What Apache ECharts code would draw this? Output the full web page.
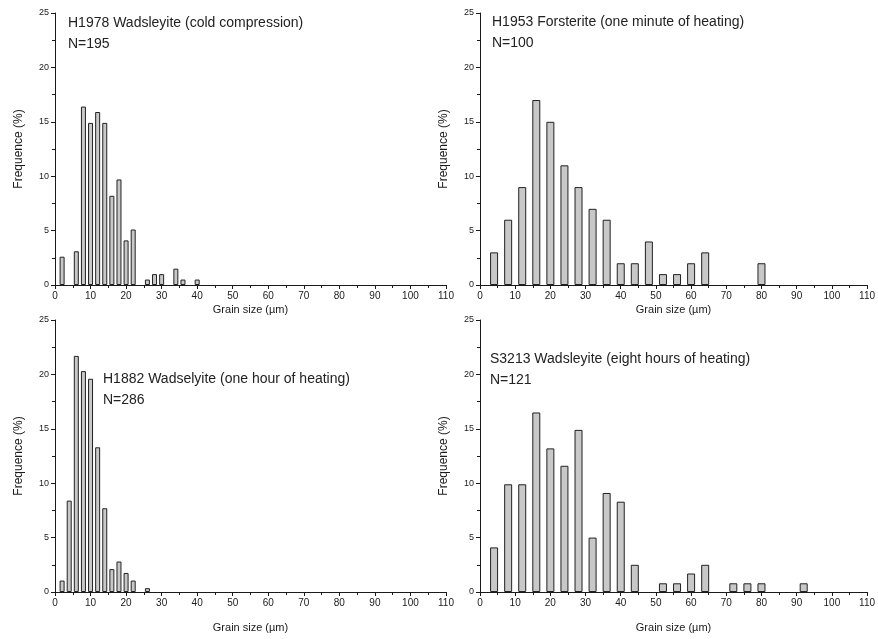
<!DOCTYPE html>
<html lang="en">
<head>
    <meta charset="UTF-8">
    <title>Grain size distributions</title>
    <script type="text/javascript" src="https://cdn.jsdelivr.net/npm/echarts@6/dist/echarts.min.js"></script>
    <style>
        html, body { margin: 0; padding: 0; background: #fff; }
    </style>
</head>
<body>
    <div id="main" style="width: 878px; height: 639px;"></div>
    <script type="text/javascript">
        // grain size bins (µm, bin centre) and frequencies (%)
        var h1978Bins = [2, 6, 8, 10, 12, 14, 16, 18, 20, 22, 26, 28, 30, 34, 36, 40];
        var h1978Freq = [2.6, 3.1, 16.4, 14.9, 15.9, 14.9, 8.2, 9.7, 4.1, 5.1, 0.5, 1.0, 1.0, 1.5, 0.5, 0.5];

        var h1953Bins = [4, 8, 12, 16, 20, 24, 28, 32, 36, 40, 44, 48, 52, 56, 60, 64, 80];
        var h1953Freq = [3, 6, 9, 17, 15, 11, 9, 7, 6, 2, 2, 4, 1, 1, 2, 3, 2];

        var h1882Bins = [2, 4, 6, 8, 10, 12, 14, 16, 18, 20, 22, 26];
        var h1882Freq = [1.05, 8.4, 21.7, 20.3, 19.6, 13.3, 7.7, 2.1, 2.8, 1.75, 1.05, 0.35];

        var s3213Bins = [4, 8, 12, 16, 20, 24, 28, 32, 36, 40, 44, 52, 56, 60, 64, 72, 76, 80, 92];
        var s3213Freq = [4.1, 9.9, 9.9, 16.5, 13.2, 11.6, 14.9, 5.0, 9.1, 8.3, 2.5, 0.8, 0.8, 1.7, 2.5, 0.8, 0.8, 0.8, 0.8];

        var panelTitles = [
            'H1978 Wadsleyite (cold compression)\nN=195',
            'H1953 Forsterite (one minute of heating)\nN=100',
            'H1882 Wadselyite (one hour of heating)\nN=286',
            'S3213 Wadsleyite (eight hours of heating)\nN=121'
        ];

        var xTicks = { min: 0, max: 110, interval: 10 };
        var yTicks = { min: 0, max: 25, interval: 5 };

        var chartDom = document.getElementById('main');
        var myChart = echarts.init(chartDom);
        var option;

        var font = 'Liberation Sans, Arial, sans-serif';
        var ink = '#1a1a1a';

        var grids = [
            { left: 55, top: 13, width: 391, height: 272 },
            { left: 480, top: 13, width: 391, height: 272 },
            { left: 55, top: 320, width: 391, height: 272 },
            { left: 480, top: 320, width: 391, height: 272 }
        ];

        var titlePos = [[68, 13], [492, 12], [103, 369], [490, 349]];

        function pairs(bins, freq) {
            return bins.map(function(b, i) { return [b, freq[i]]; });
        }

        var panels = [
            { data: pairs(h1978Bins, h1978Freq), width: 5 },
            { data: pairs(h1953Bins, h1953Freq), width: 8 },
            { data: pairs(h1882Bins, h1882Freq), width: 5 },
            { data: pairs(s3213Bins, s3213Freq), width: 8 }
        ];

        option = {
            backgroundColor: '#fff',
            animation: false,
            title: panelTitles.map(function(t, i) {
                return {
                    text: t,
                    left: titlePos[i][0],
                    top: titlePos[i][1],
                    padding: 0,
                    textStyle: {
                        fontFamily: font,
                        fontSize: 14,
                        fontWeight: 'normal',
                        color: '#222',
                        lineHeight: 21
                    }
                };
            }),
            grid: grids,
            xAxis: grids.map(function(g, i) {
                return {
                    type: 'value',
                    gridIndex: i,
                    min: xTicks.min,
                    max: xTicks.max,
                    interval: xTicks.interval,
                    name: 'Grain size (µm)',
                    nameLocation: 'middle',
                    nameGap: i < 2 ? 19 : 30,
                    nameTextStyle: { fontFamily: font, fontSize: 11, color: ink },
                    axisLine: { show: true, onZero: false, lineStyle: { color: ink, width: 1 } },
                    axisTick: { show: true, length: 4, lineStyle: { color: ink } },
                    minorTick: { show: true, splitNumber: 2, length: 3, lineStyle: { color: ink } },
                    axisLabel: { fontFamily: font, fontSize: 10, color: ink, margin: 6 },
                    splitLine: { show: false }
                };
            }),
            yAxis: grids.map(function(g, i) {
                return {
                    type: 'value',
                    gridIndex: i,
                    min: yTicks.min,
                    max: yTicks.max,
                    interval: yTicks.interval,
                    name: 'Frequence (%)',
                    nameLocation: 'middle',
                    nameGap: 30,
                    nameTextStyle: { fontFamily: font, fontSize: 12, color: ink },
                    axisLine: { show: true, lineStyle: { color: ink, width: 1 } },
                    axisTick: { show: true, length: 4, lineStyle: { color: ink } },
                    minorTick: { show: true, splitNumber: 2, length: 3, lineStyle: { color: ink } },
                    axisLabel: { fontFamily: font, fontSize: 9, color: ink, margin: 6 },
                    splitLine: { show: false }
                };
            }),
            series: panels.map(function(p, i) {
                return {
                    type: 'bar',
                    xAxisIndex: i,
                    yAxisIndex: i,
                    barWidth: p.width,
                    data: p.data,
                    itemStyle: {
                        color: '#c8c8c8',
                        borderColor: '#222',
                        borderWidth: 1
                    }
                };
            })
        };

        option && myChart.setOption(option);
    </script>
</body>
</html>
